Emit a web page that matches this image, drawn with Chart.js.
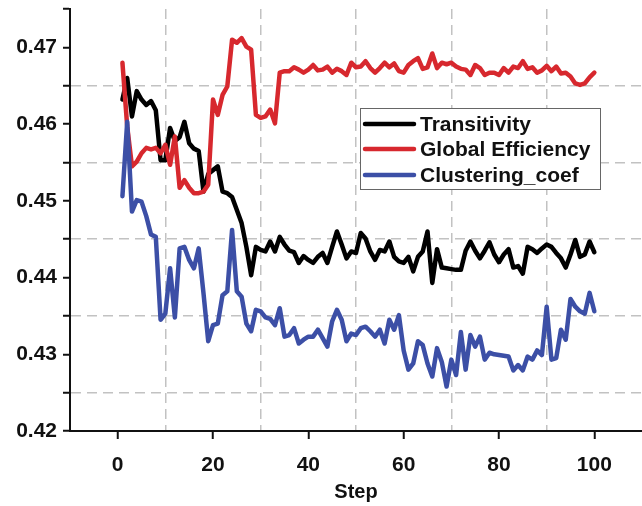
<!DOCTYPE html>
<html>
<head>
<meta charset="utf-8">
<script src="https://cdn.jsdelivr.net/npm/chart.js@4.4.1/dist/chart.umd.min.js"></script>
<style>
  html, body { margin: 0; padding: 0; background: #fff; }
  #wrap { width: 642px; height: 506px; position: relative; }
</style>
</head>
<body>
<div id="wrap"><canvas id="line-chart1"></canvas></div>
<script>
// steps 1..100
const steps = Array.from({length: 100}, (_, i) => i + 1);

const transitivity = [
  0.4632, 0.4660, 0.4610, 0.4643, 0.4632, 0.4625, 0.4630, 0.4618, 0.4553, 0.4553,
  0.4595, 0.4578, 0.4583, 0.4603, 0.4575, 0.4568, 0.4565, 0.4512, 0.4535, 0.4540,
  0.4545, 0.4512, 0.4510, 0.4505, 0.4488, 0.4471, 0.4440, 0.4403, 0.4440, 0.4436,
  0.4434, 0.4447, 0.4434, 0.4453, 0.4443, 0.4435, 0.4433, 0.4419, 0.4428, 0.4423,
  0.4419, 0.4427, 0.4432, 0.4419, 0.4440, 0.4460, 0.4443, 0.4425, 0.4434, 0.4432,
  0.4458, 0.4451, 0.4434, 0.4423, 0.4436, 0.4434, 0.4447, 0.4427, 0.4421, 0.4419,
  0.4427, 0.4408, 0.4427, 0.4434, 0.4460, 0.4393, 0.4437, 0.4413, 0.4412, 0.4411,
  0.4410, 0.4410, 0.4435, 0.4447, 0.4435, 0.4425, 0.4435, 0.4446, 0.4430, 0.4420,
  0.4430, 0.4437, 0.4413, 0.4415, 0.4405, 0.4440, 0.4437, 0.4432, 0.4438, 0.4443,
  0.4440, 0.4432, 0.4425, 0.4413, 0.4430, 0.4449, 0.4427, 0.4430, 0.4447, 0.4433
];

const globalEfficiency = [
  0.4680, 0.4597, 0.4545, 0.4551, 0.4562, 0.4569, 0.4567, 0.4569, 0.4562, 0.4573,
  0.4547, 0.4584, 0.4517, 0.4527, 0.4517, 0.4510, 0.4510, 0.4512, 0.4521, 0.4632,
  0.4612, 0.4638, 0.4649, 0.4710, 0.4706, 0.4712, 0.4701, 0.4697, 0.4612, 0.4608,
  0.4610, 0.4619, 0.4601, 0.4667, 0.4669, 0.4669, 0.4674, 0.4671, 0.4667, 0.4671,
  0.4677, 0.4670, 0.4671, 0.4675, 0.4667, 0.4672, 0.4669, 0.4664, 0.4680, 0.4674,
  0.4675, 0.4682, 0.4673, 0.4667, 0.4673, 0.4680, 0.4674, 0.4679, 0.4669, 0.4667,
  0.4677, 0.4682, 0.4686, 0.4672, 0.4674, 0.4692, 0.4673, 0.4680, 0.4678, 0.4680,
  0.4675, 0.4672, 0.4671, 0.4664, 0.4677, 0.4673, 0.4664, 0.4667, 0.4667, 0.4664,
  0.4673, 0.4667, 0.4675, 0.4673, 0.4682, 0.4672, 0.4674, 0.4667, 0.4670, 0.4676,
  0.4669, 0.4675, 0.4666, 0.4667, 0.4662, 0.4653, 0.4651, 0.4653, 0.4661, 0.4667
];

const clusteringCoef = [
  0.4506, 0.4603, 0.4486, 0.4501, 0.4499, 0.4480, 0.4456, 0.4453, 0.4345, 0.4353,
  0.4412, 0.4348, 0.4438, 0.4440, 0.4423, 0.4412, 0.4438, 0.4380, 0.4317, 0.4338,
  0.4340, 0.4377, 0.4382, 0.4462, 0.4382, 0.4375, 0.4340, 0.4330, 0.4358, 0.4356,
  0.4348, 0.4346, 0.4338, 0.4360, 0.4323, 0.4325, 0.4334, 0.4314, 0.4319, 0.4323,
  0.4323, 0.4332, 0.4321, 0.4310, 0.4343, 0.4358, 0.4345, 0.4317, 0.4327, 0.4325,
  0.4334, 0.4336, 0.4330, 0.4323, 0.4332, 0.4314, 0.4345, 0.4332, 0.4351, 0.4305,
  0.4280, 0.4288, 0.4317, 0.4312, 0.4288, 0.4271, 0.4308, 0.4290, 0.4258, 0.4293,
  0.4273, 0.4329, 0.4280, 0.4325, 0.4310, 0.4323, 0.4293, 0.4302, 0.4300, 0.4299,
  0.4298, 0.4297, 0.4279, 0.4286, 0.4279, 0.4297, 0.4293, 0.4305, 0.4299, 0.4362,
  0.4293, 0.4295, 0.4332, 0.4319, 0.4372, 0.4362, 0.4356, 0.4353, 0.4380, 0.4356
];

const seriesNames = ["Transitivity", "Global Efficiency", "Clustering_coef"];
const xTickLabels = [0, 20, 40, 60, 80, 100];
const yTickLabels = [0.42, 0.43, 0.44, 0.45, 0.46, 0.47];

const toPoints = vals => vals.map((v, i) => ({x: steps[i], y: v}));

const isMajorY = v => yTickLabels.some(t => Math.abs(t - v) < 1e-6);
const isMinorX = v => v >= 10 && v <= 90 && Math.abs(v % 20) === 10;

// legend drawn inside the plot, like the original
const innerLegend = {
  id: 'innerLegend',
  afterDraw(chart) {
    const ctx = chart.ctx;
    const x0 = 360, y0 = 108, w = 240, h = 81;
    ctx.save();
    ctx.fillStyle = '#fff';
    ctx.fillRect(x0, y0, w, h);
    ctx.strokeStyle = '#666';
    ctx.lineWidth = 1;
    ctx.strokeRect(x0 + 0.5, y0 + 0.5, w, h);
    ctx.font = 'bold 21px "Liberation Sans", Arial, sans-serif';
    ctx.textBaseline = 'middle';
    ctx.fillStyle = '#111';
    const rows = [124, 149, 175];
    chart.data.datasets.forEach((ds, i) => {
      const y = rows[i];
      ctx.strokeStyle = ds.borderColor;
      ctx.lineWidth = 4.5;
      ctx.lineCap = 'round';
      ctx.beginPath();
      ctx.moveTo(365, y);
      ctx.lineTo(414, y);
      ctx.stroke();
      ctx.fillText(ds.label, 420, y + 1);
    });
    ctx.restore();
  }
};

Chart.defaults.font.family = '"Liberation Sans", Arial, sans-serif';
Chart.defaults.color = '#111';

var config = {
  type: "line",
  data: {
    datasets: [
      {
        label: seriesNames[0],
        data: toPoints(transitivity),
        borderColor: "#000000",
        order: 3,
      },
      {
        label: seriesNames[1],
        data: toPoints(globalEfficiency),
        borderColor: "#d7282e",
        order: 2,
      },
      {
        label: seriesNames[2],
        data: toPoints(clusteringCoef),
        borderColor: "#3c4fa6",
        order: 1,
      },
    ],
  },
  options: {
    responsive: true,
    maintainAspectRatio: false,
    animation: false,
    layout: { padding: { top: 9, right: 0, left: 0, bottom: 0 } },
    elements: {
      point: { radius: 0 },
      line: { borderWidth: 4.5, tension: 0, borderJoinStyle: 'round', borderCapStyle: 'round' },
    },
    plugins: {
      legend: { display: false },
      tooltip: { enabled: false },
    },
    scales: {
      x: {
        type: "linear",
        min: -10,
        max: 110,
        afterFit: s => { s.height = 75; s.paddingLeft = 0; s.paddingRight = 0; },
        border: { display: true, color: "#111", width: 2, dash: [10, 6] },
        grid: {
          color: c => isMinorX(c.tick.value) ? "#c2c2c2" : "rgba(0,0,0,0)",
          lineWidth: 1.5,
          tickColor: c => xTickLabels.includes(c.tick.value) ? "#111" : "rgba(0,0,0,0)",
          tickLength: 8,
          tickWidth: 2,
          tickBorderDash: [],
        },
        ticks: {
          stepSize: 10,
          autoSkip: false,
          maxRotation: 0,
          padding: 14,
          font: { size: 21, weight: "bold" },
          callback: v => xTickLabels.includes(v) ? String(v) : "",
        },
        title: {
          display: true,
          text: "Step",
          font: { size: 20, weight: "bold" },
          padding: { top: 0, bottom: 2 },
        },
      },
      y: {
        min: 0.42,
        max: 0.475,
        afterFit: s => { s.width = 70; s.paddingTop = 0; s.paddingBottom = 0; },
        border: { display: true, color: "#111", width: 2, dash: [10, 6] },
        grid: {
          color: c => (!isMajorY(c.tick.value) && c.tick.value < 0.47) ? "#c2c2c2" : "rgba(0,0,0,0)",
          lineWidth: 1.5,
          tickColor: "#111",
          tickLength: 7,
          tickWidth: 2,
          tickBorderDash: [],
        },
        ticks: {
          stepSize: 0.005,
          autoSkip: false,
          padding: 6,
          font: { size: 21, weight: "bold" },
          callback: v => isMajorY(v) ? v.toFixed(2) : "",
        },
      },
    },
  },
  plugins: [innerLegend],
};

var ctx = document.getElementById("line-chart1").getContext("2d");
window.myLine1 = new Chart(ctx, config);
</script>
</body>
</html>
